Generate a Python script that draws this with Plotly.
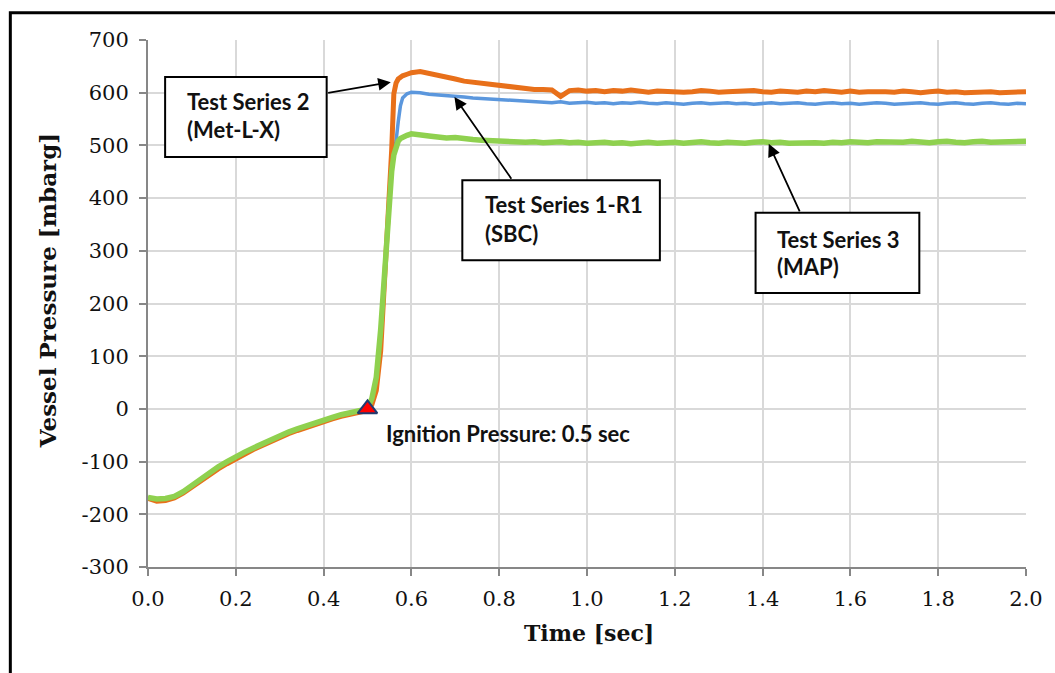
import numpy as np
import plotly.graph_objects as go

# Sample times [sec]: slow pre-ignition ramp, fine steps through the pressure rise, then plateau
time_pre = np.round(np.arange(0.0, 0.5001, 0.02), 3)
time_rise = [0.51, 0.52, 0.53, 0.54, 0.545, 0.55, 0.555, 0.56, 0.565, 0.57, 0.575, 0.58, 0.59, 0.60]
time_plateau = np.round(np.arange(0.62, 2.0001, 0.02), 3)
time_s = list(time_pre) + time_rise + list(time_plateau)

# Vessel pressure [mbarg]
series1_r1_sbc = [
    -169, -172, -171, -167, -158, -146, -133, -121, -111, -101, -91, -83, -75, -67, -59, -51,
    -45, -39, -33, -27, -22, -17, -12, -8, -4, -1,
    15, 50, 140, 270, 335, 400, 450, 485, 508, 545, 575, 590, 598, 601,
    600, 597, 596, 594, 593, 592, 590, 589, 588, 587, 586, 584, 584, 583, 582, 581, 583, 580, 581, 582,
    580, 581, 579, 581, 580, 582, 580, 579, 581, 580, 578, 580, 581, 579, 580, 581, 579, 580, 578, 580,
    581, 579, 580, 581, 579, 578, 580, 581, 579, 580, 578, 579, 581, 580, 578, 579, 580, 581, 579, 578,
    580, 581, 579, 578, 580, 581, 579, 578, 580, 579,
]
series2_met_l_x = [
    -170, -175, -174, -169, -160, -148, -136, -124, -114, -104, -94, -86, -77, -69, -61, -54,
    -47, -41, -35, -29, -24, -19, -14, -10, -6, -3,
    8, 35, 110, 250, 330, 400, 490, 598, 618, 626, 630, 632, 635, 638,
    640, 637, 633, 629, 626, 622, 620, 617, 614, 612, 610, 609, 607, 606, 606, 605, 593, 604, 605, 603,
    604, 602, 604, 603, 605, 603, 601, 603, 602, 603, 601, 602, 604, 603, 601, 602, 603, 602, 604, 602,
    601, 603, 602, 601, 603, 602, 604, 602, 601, 603, 601, 602, 603, 602, 601, 603, 602, 600, 602, 603,
    601, 602, 600, 601, 603, 602, 600, 601, 603, 602,
]
series3_map = [
    -168, -171, -170, -166, -157, -145, -132, -120, -110, -100, -90, -82, -74, -66, -58, -50,
    -44, -38, -32, -26, -21, -16, -11, -7, -3, 0,
    20, 60, 150, 280, 340, 400, 450, 482, 500, 508, 513, 516, 519, 522,
    521, 518, 516, 514, 515, 512, 511, 510, 509, 508, 509, 507, 506, 507, 505, 506, 507, 505, 506, 504,
    505, 506, 504, 505, 503, 505, 506, 504, 505, 506, 504, 505, 507, 505, 504, 506, 505, 504, 506, 507,
    505, 506, 504, 505, 506, 505, 504, 506, 505, 507, 506, 505, 507, 506, 505, 506, 508, 506, 505, 507,
    508, 506, 505, 507, 508, 506, 507, 508, 507, 508,
]

ignition_time = [0.5]
ignition_pressure = [0]

x_ticks = [0.0, 0.2, 0.4, 0.6, 0.8, 1.0, 1.2, 1.4, 1.6, 1.8, 2.0]
x_tick_labels = ["0.0", "0.2", "0.4", "0.6", "0.8", "1.0", "1.2", "1.4", "1.6", "1.8", "2.0"]
y_ticks = [-300, -200, -100, 0, 100, 200, 300, 400, 500, 600, 700]
y_tick_labels = ["-300", "-200", "-100", "0", "100", "200", "300", "400", "500", "600", "700"]

SERIF = "DejaVu Serif"
SANS = "Lato"
AXIS_GREY = "#878787"
GRID_GREY = "#D9D9D9"
TEXT = "#111111"

fig = go.Figure()
fig.add_trace(go.Scatter(x=time_s, y=series1_r1_sbc, mode="lines", name="Test Series 1-R1 (SBC)",
                         line=dict(color="#5B97DD", width=3.5)))
fig.add_trace(go.Scatter(x=time_s, y=series2_met_l_x, mode="lines", name="Test Series 2 (Met-L-X)",
                         line=dict(color="#E8701A", width=5)))
fig.add_trace(go.Scatter(x=time_s, y=series3_map, mode="lines", name="Test Series 3 (MAP)",
                         line=dict(color="#8FD14F", width=5.5)))
fig.add_trace(go.Scatter(x=ignition_time, y=ignition_pressure, mode="markers", name="Ignition",
                         marker=dict(symbol="triangle-up", size=17, color="#FF0000",
                                     line=dict(color="#1F3A70", width=2))))

# Callout boxes (data coordinates)
boxes = [
    dict(x0=0.039, x1=0.407, y0=478, y1=630),
    dict(x0=0.716, x1=1.166, y0=282, y1=434),
    dict(x0=1.384, x1=1.757, y0=220, y1=372),
]
for b in boxes:
    fig.add_shape(type="rect", xref="x", yref="y", x0=b["x0"], x1=b["x1"], y0=b["y0"], y1=b["y1"],
                  line=dict(color="black", width=2), fillcolor="white", layer="above")

# Outer frame around the chart
fig.add_shape(type="rect", xref="paper", yref="paper", x0=-0.1568, x1=1.06, y0=-0.3, y1=1.0515,
              line=dict(color="black", width=3), fillcolor="rgba(0,0,0,0)", layer="above")

annotations = []
# Arrows from the boxes to the curves
for tip, tail in [((0.553, 620), (0.407, 599)),
                  ((0.698, 592), (0.830, 434)),
                  ((1.414, 503), (1.486, 372))]:
    annotations.append(dict(x=tip[0], y=tip[1], ax=tail[0], ay=tail[1], xref="x", yref="y",
                            axref="x", ayref="y", text="", showarrow=True, arrowhead=2,
                            arrowsize=1.4, arrowwidth=1.8, arrowcolor="black", standoff=0))

label_lines = [
    ("Test Series 2", 0.084, 584), ("(Met-L-X)", 0.084, 530),
    ("Test Series 1-R1", 0.762, 387), ("(SBC)", 0.762, 332),
    ("Test Series 3", 1.429, 321), ("(MAP)", 1.429, 270),
    ("Ignition Pressure: 0.5 sec", 0.5386, -46),
]
for txt, lx, ly in label_lines:
    annotations.append(dict(x=lx, y=ly, xref="x", yref="y", text="<b>" + txt + "</b>",
                            showarrow=False, xanchor="left", yanchor="middle",
                            font=dict(family=SANS, size=22, color=TEXT)))

# Axis titles
annotations.append(dict(x=0.502, y=-0.125, xref="paper", yref="paper", text="<b>Time [sec]</b>",
                        showarrow=False, xanchor="center", yanchor="middle",
                        font=dict(family=SERIF, size=22, color=TEXT)))
annotations.append(dict(x=-0.1148, y=0.5237, xref="paper", yref="paper",
                        text="<b>Vessel Pressure [mbarg]</b>", textangle=-90,
                        showarrow=False, xanchor="center", yanchor="middle",
                        font=dict(family=SERIF, size=23, color=TEXT)))

fig.update_layout(
    width=1055, height=673,
    margin=dict(l=148, r=27, t=40, b=106),
    paper_bgcolor="white", plot_bgcolor="white",
    showlegend=False,
    annotations=annotations,
    xaxis=dict(range=[0, 2], tickvals=x_ticks, ticktext=x_tick_labels,
               showline=True, linecolor=AXIS_GREY, linewidth=2,
               ticks="outside", ticklen=7, tickwidth=2, tickcolor=AXIS_GREY,
               ticklabelstandoff=5,
               showgrid=True, gridcolor=GRID_GREY, gridwidth=2, zeroline=False,
               tickfont=dict(family=SERIF, size=21, color=TEXT)),
    yaxis=dict(range=[-300, 700], tickvals=y_ticks, ticktext=y_tick_labels,
               showline=True, linecolor=AXIS_GREY, linewidth=2,
               ticks="outside", ticklen=7, tickwidth=2, tickcolor=AXIS_GREY,
               ticklabelstandoff=6,
               showgrid=True, gridcolor=GRID_GREY, gridwidth=2, zeroline=False,
               tickfont=dict(family=SERIF, size=21, color=TEXT)),
)

fig.write_html("out.html")
